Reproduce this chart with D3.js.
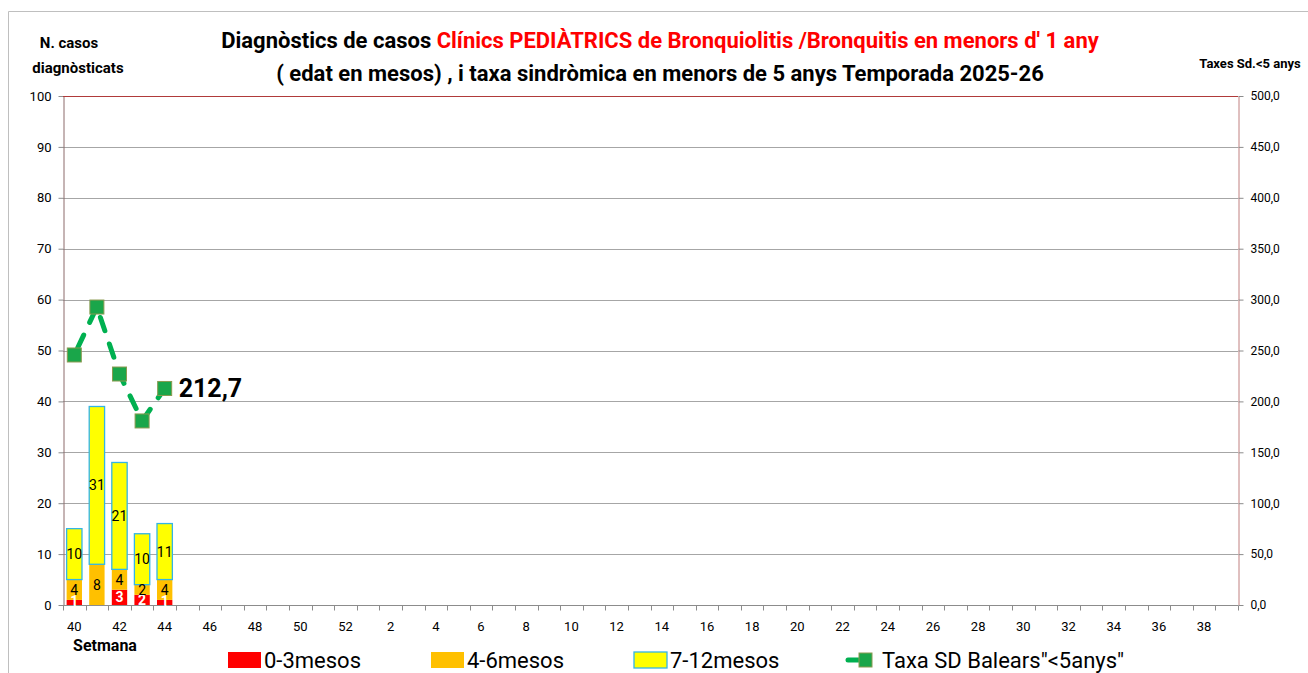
<html>
<head>
<meta charset="utf-8">
<script src="https://d3js.org/d3.v7.min.js"></script>
<style>
  body { margin: 0; background: #fff; }
  text { font-family: Roboto, "Open Sans", sans-serif; }
</style>
</head>
<body>
<script>
// setmanes 40..52 i 1..39
var weeks = d3.range(40, 53).concat(d3.range(1, 40)).map(String);
var tickWeeks = weeks.filter(function(d){ return +d % 2 === 0; });

var obsWeeks = ["40", "41", "42", "43", "44"];
var m0_3 = [1, 0, 3, 2, 1];
var m4_6 = [4, 8, 4, 2, 4];
var m7_12 = [10, 31, 21, 10, 11];
var taxa = [245.6, 292.7, 226.9, 180.8, 212.7];

var leftTicks = d3.range(0, 101, 10);
var rightTicks = d3.range(0, 501, 50);

var W = 1308, H = 673;
var x0 = 63, x1 = 1238, yTop = 96, yBot = 605;

var svg = d3.select("body").append("svg").attr("width", W).attr("height", H);

// marc del gràfic
svg.append("path").attr("d", "M8.5," + H + "V11.5H" + W).attr("fill", "none").attr("stroke", "#bfbfbf");

var x = d3.scaleBand().domain(weeks).range([x0, x1]).paddingInner(0.32).paddingOuter(0.16);
var xPos = d3.scalePoint().domain(weeks).range([x0, x1]).padding(0.5);
var y = d3.scaleLinear().domain([0, 100]).range([yBot, yTop]);
var y2 = d3.scaleLinear().domain([0, 500]).range([yBot, yTop]);

// graella
svg.append("g").selectAll("line").data(leftTicks.slice(1, -1)).join("line")
  .attr("x1", x0).attr("x2", x1)
  .attr("y1", function(d){ return Math.round(y(d)) + 0.5; })
  .attr("y2", function(d){ return Math.round(y(d)) + 0.5; })
  .attr("stroke", "#a6a6a6").attr("stroke-width", 1);

// eix esquerre
var yAxis = svg.append("g").attr("transform", "translate(" + (x0 + 0.5) + ",0)")
  .call(d3.axisLeft(y).tickValues(leftTicks).tickSize(5).tickSizeOuter(0));
yAxis.select(".domain").attr("stroke", "#8c6b6b");
yAxis.selectAll(".tick line").attr("stroke", "#8c8c8c");
yAxis.selectAll("text").attr("font-size", 13).attr("fill", "#000").attr("x", -12);

// eix dret
var y2Axis = svg.append("g").attr("transform", "translate(" + (x1 + 0.5) + ",0)")
  .call(d3.axisRight(y2).tickValues(rightTicks).tickSize(5).tickSizeOuter(0)
    .tickFormat(function(d){ return d3.format(".1f")(d).replace(".", ","); }));
y2Axis.select(".domain").attr("stroke", "#c08080");
y2Axis.selectAll(".tick line").attr("stroke", "#8c8c8c");
y2Axis.selectAll("text").attr("font-size", 12).attr("fill", "#000").attr("x", 12);

// línia superior
svg.append("line").attr("x1", x0).attr("x2", x1).attr("y1", yTop + 0.5).attr("y2", yTop + 0.5)
  .attr("stroke", "#b03a3a").attr("stroke-width", 1.2);

// eix X
var xAxisG = svg.append("g").attr("transform", "translate(0," + (yBot + 0.5) + ")");
xAxisG.append("line").attr("x1", x0).attr("x2", x1).attr("stroke", "#8c8c8c");
var step = (x1 - x0) / weeks.length;
xAxisG.selectAll(".tk").data(d3.range(weeks.length + 1)).join("line").attr("class", "tk")
  .attr("x1", function(i){ return Math.round(x0 + i * step) + 0.5; })
  .attr("x2", function(i){ return Math.round(x0 + i * step) + 0.5; })
  .attr("y1", 0).attr("y2", 5).attr("stroke", "#8c8c8c");
xAxisG.selectAll(".lb").data(tickWeeks).join("text").attr("class", "lb")
  .attr("x", function(d){ return xPos(d); }).attr("y", 25)
  .attr("text-anchor", "middle").attr("font-size", 13).text(function(d){ return d; });

// barres apilades
var series = [
  { key: "0-3mesos", vals: m0_3, fill: "#ff0000", stroke: "none", label: "#fff", bold: true },
  { key: "4-6mesos", vals: m4_6, fill: "#ffc000", stroke: "none", label: "#000", bold: false },
  { key: "7-12mesos", vals: m7_12, fill: "#ffff00", stroke: "#33b5e5", label: "#000", bold: false }
];
var base = obsWeeks.map(function(){ return 0; });
var labels = svg.append("g");
series.forEach(function(s){
  var g = svg.append("g");
  obsWeeks.forEach(function(w, i){
    var v = s.vals[i];
    var b = base[i];
    if (v > 0) {
      g.append("rect").attr("x", x(w)).attr("width", x.bandwidth())
        .attr("y", y(b + v)).attr("height", y(b) - y(b + v))
        .attr("fill", s.fill).attr("stroke", s.stroke).attr("stroke-width", 1.3);
      var cy = (y(b) + y(b + v)) / 2;
      labels.append("text").attr("x", x(w) + x.bandwidth() / 2).attr("y", Math.min(cy + 5, yBot + 1))
        .attr("text-anchor", "middle").attr("font-size", 14)
        .attr("font-weight", s.bold ? "bold" : "normal").attr("fill", s.label).text(v);
    }
    base[i] = b + v;
  });
});
labels.raise();

// línia taxa
var line = d3.line().x(function(d, i){ return xPos(obsWeeks[i]); }).y(function(d){ return y2(d); });
svg.append("path").attr("d", line(taxa)).attr("fill", "none")
  .attr("stroke", "#00b050").attr("stroke-width", 5).attr("stroke-dasharray", "14,14")
  .attr("stroke-dashoffset", -8).attr("stroke-linecap", "round");
svg.append("g").selectAll("rect").data(taxa).join("rect")
  .attr("x", function(d, i){ return xPos(obsWeeks[i]) - 7; })
  .attr("y", function(d){ return y2(d) - 7; })
  .attr("width", 14).attr("height", 14)
  .attr("fill", "#1aa64a").attr("stroke", "#8a9a50").attr("stroke-width", 1);
var last = taxa.length - 1;
svg.append("text").attr("x", xPos(obsWeeks[last]) + 14).attr("y", y2(taxa[last]) + 9)
  .attr("font-size", 25).attr("font-weight", "bold")
  .text(d3.format(".1f")(taxa[last]).replace(".", ","));

// títols
var t1 = svg.append("text").attr("x", 660).attr("y", 48).attr("text-anchor", "middle")
  .attr("font-size", 22).attr("font-weight", "bold");
t1.append("tspan").attr("fill", "#000").text("Diagnòstics de casos ");
t1.append("tspan").attr("fill", "#ff0000").text("Clínics PEDIÀTRICS de Bronquiolitis /Bronquitis en menors d' 1 any");
svg.append("text").attr("x", 660).attr("y", 81).attr("text-anchor", "middle")
  .attr("font-size", 22).attr("font-weight", "bold")
  .text("( edat en mesos) , i taxa sindròmica en menors de 5 anys Temporada 2025-26");

svg.append("text").attr("x", 69).attr("y", 48).attr("text-anchor", "middle")
  .attr("font-size", 15).attr("font-weight", "bold").text("N. casos");
svg.append("text").attr("x", 78).attr("y", 73).attr("text-anchor", "middle")
  .attr("font-size", 15).attr("font-weight", "bold").text("diagnòsticats");
svg.append("text").attr("x", 1250).attr("y", 68).attr("text-anchor", "middle")
  .attr("font-size", 13).attr("font-weight", "bold").text("Taxes Sd.<5 anys");
svg.append("text").attr("x", 105).attr("y", 651).attr("text-anchor", "middle")
  .attr("font-size", 16).attr("font-weight", "bold").text("Setmana");

// llegenda
var leg = [
  { x: 228, label: "0-3mesos", fill: "#ff0000", stroke: "none" },
  { x: 431, label: "4-6mesos", fill: "#ffc000", stroke: "none" },
  { x: 634, label: "7-12mesos", fill: "#ffff00", stroke: "#33b5e5" }
];
leg.forEach(function(l){
  svg.append("rect").attr("x", l.x).attr("y", 652).attr("width", 33).attr("height", 16)
    .attr("fill", l.fill).attr("stroke", l.stroke).attr("stroke-width", 1.3);
  svg.append("text").attr("x", l.x + 36).attr("y", 668).attr("font-size", 22).text(l.label);
});
svg.append("line").attr("x1", 848).attr("x2", 862).attr("y1", 660).attr("y2", 660)
  .attr("stroke", "#00b050").attr("stroke-width", 5).attr("stroke-linecap", "round");
svg.append("rect").attr("x", 859).attr("y", 653).attr("width", 13).attr("height", 14)
  .attr("fill", "#1aa64a").attr("stroke", "#8a9a50");
svg.append("text").attr("x", 882).attr("y", 668).attr("font-size", 22).text("Taxa SD Balears\"<5anys\"");
</script>
</body>
</html>
